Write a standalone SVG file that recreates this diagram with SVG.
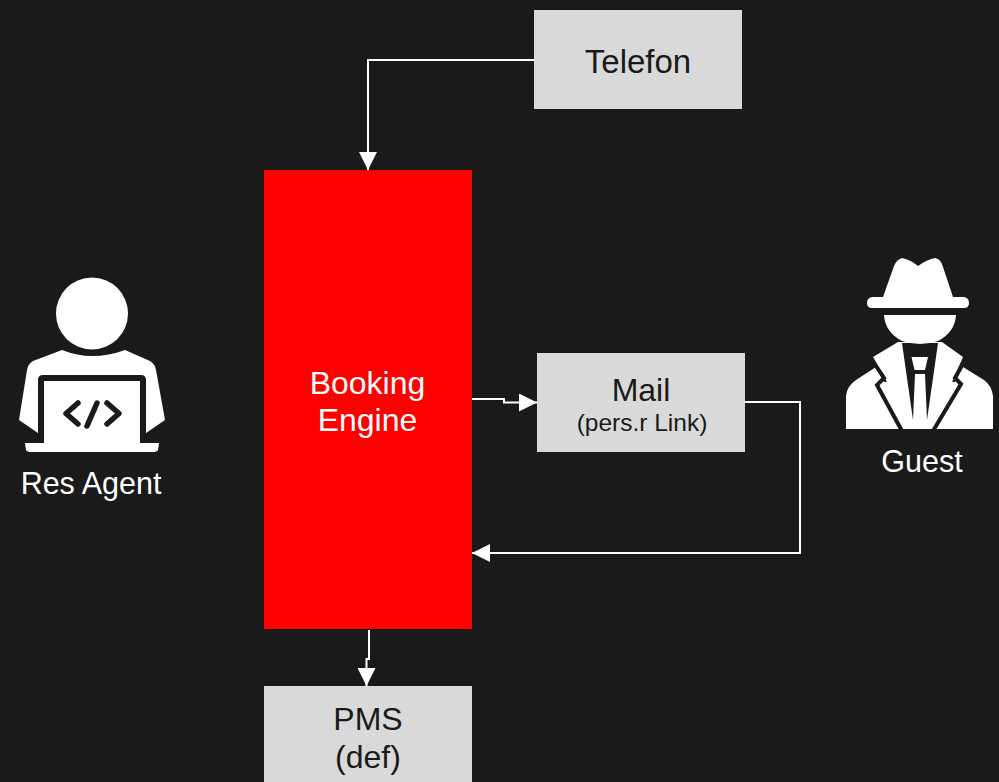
<svg xmlns="http://www.w3.org/2000/svg" width="999" height="782" viewBox="0 0 999 782">
<style>
text{font-family:"Liberation Sans",Arial,sans-serif;text-anchor:middle}
.box{fill:#d9d9d9}
.dark{fill:#1a1a1a}
.lt{fill:#fff}
.gap{fill:none;stroke:#1a1a1a;stroke-width:4;stroke-linejoin:miter}
.conn{fill:none;stroke:#fff;stroke-width:2}
.t{fill:#1a1a1a;font-size:32px}
.w{fill:#fff;font-size:32px}
.s{font-size:30.500px}
</style>
<defs><marker id="arrow" markerUnits="userSpaceOnUse" markerWidth="18" markerHeight="18" refX="18" refY="9" orient="auto"><path d="M0 0L18 9L0 18Z" fill="#fff"/></marker></defs>
<rect width="999" height="782" fill="#1a1a1a"/>
<g id="connectors">
<path class="conn" marker-end="url(#arrow)" d="M534 60H368V170"/>
<path class="conn" marker-end="url(#arrow)" d="M472 399H504V402.500H537"/>
<path class="conn" marker-end="url(#arrow)" d="M745 402H800V553H472"/>
<path class="conn" marker-end="url(#arrow)" d="M369 630V659H366.500V686"/>
</g>
<g id="telefon"><rect class="box" x="534" y="10" width="208" height="99"/><text class="t" x="638" y="73" style="font-size:33px">Telefon</text></g>
<g id="booking-engine"><rect x="264" y="170" width="208" height="459" fill="#f00"/><text class="w" x="367.500" y="394">Booking</text><text class="w" x="367.500" y="431">Engine</text></g>
<g id="mail"><rect class="box" x="537" y="353" width="208" height="99"/><text class="t" x="641" y="401">Mail</text><text class="t" x="642" y="431" style="font-size:24.500px">(pers.r Link)</text></g>
<g id="pms"><rect class="box" x="264" y="686" width="208" height="96"/><text class="t" x="368" y="730">PMS</text><text class="t" x="368" y="768">(def)</text></g>
<g id="res-agent">
<path class="lt" d="M62 350Q92 362 125 350L150 361Q155 364 156 370L165 420L146 433V380Q146 375 141 375H43Q38 375 38 380V433L19 420L27 370Q28 364 33 361Z"/>
<circle class="lt" cx="92" cy="313.500" r="36"/>
<path class="lt" d="M44 381H140V443H159L158 450Q157 452 153 452H31Q27 452 26 450L25 443H44Z"/>
<g fill="none" stroke="#1a1a1a" stroke-width="5.500" stroke-linecap="round" stroke-linejoin="round"><path d="M78 403L66 413.500L78 424"/><path d="M107 403L119 413.500L107 424"/><path d="M97 403L87 426"/></g>
<text class="w s" x="91" y="494">Res Agent</text>
</g>
<g id="guest">
<path class="lt" d="M902 258Q911 260 918 266Q926 260 935 258Q941 259 943 267L953 297H964Q969 298 969 303Q969 308 964 308H872Q867 308 867 303Q867 298 872 297H883L894 266Q897 259 902 258Z"/>
<path class="lt" d="M846 429V396Q847 386 856 380L876 367L884 382H955L963 367L984 380Q992 386 993 396V429Z"/>
<path class="lt" d="M873 357L898 342H942L963 357L953 380L932 429H903L886 380Z"/>
<path class="gap" d="M872 360L884 378L877 385L902 431"/>
<path class="gap" d="M965 360L955 378L961 384L933 431"/>
<path class="dark" d="M902 343H938L927 420L925 374H915L913 420Z"/>
<path class="lt" d="M911.500 357H928L925 370H914.500Z"/>
<path class="lt" d="M884 315H956Q955 332 938 341Q920 347 902 341Q885 332 884 315Z"/>
<text class="w s" x="922" y="472">Guest</text>
</g>
</svg>
